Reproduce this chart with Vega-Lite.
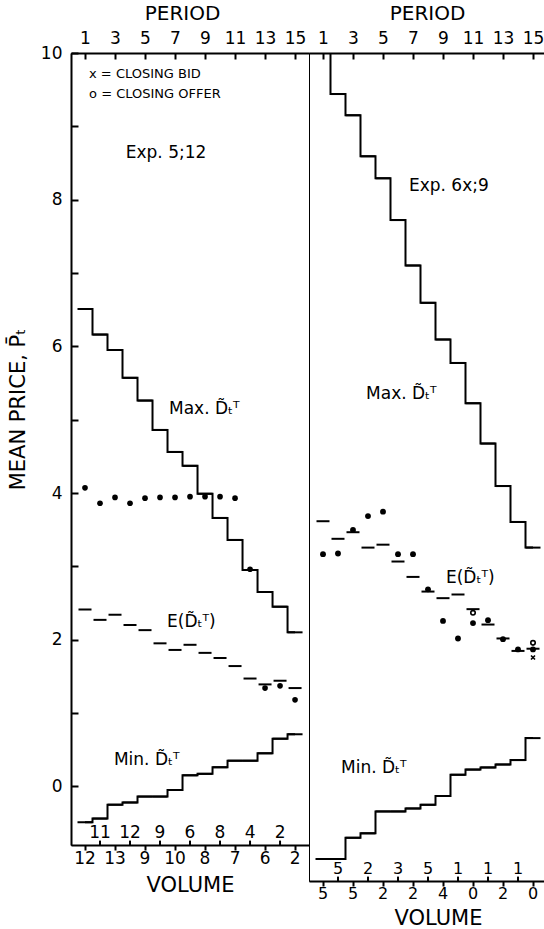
{
  "$schema": "https://vega.github.io/schema/vega-lite/v6.json",
  "padding": {"left": 6, "top": 2, "right": 0, "bottom": 0},
  "background": "white",
  "spacing": 0,
  "bounds": "flush",
  "config": {
    "view": {"stroke": "black", "strokeWidth": 1},
    "font": "DejaVu Sans",
    "axis": {"domainColor": "black", "tickColor": "black", "labelColor": "black", "titleColor": "black", "grid": false, "labelFont": "DejaVu Sans", "titleFont": "DejaVu Sans", "titleFontWeight": "normal", "labelFontSize": 17, "titleFontSize": 20, "domainWidth": 2, "tickWidth": 2},
    "text": {"font": "DejaVu Sans", "color": "black"}
  },
  "datasets": {
    "left": [
      {"period": 1, "max": 6.51, "min": -0.49, "e": 2.41, "price": 4.07, "volume": 12},
      {"period": 2, "max": 6.16, "min": -0.44, "e": 2.27, "price": 3.86, "volume": 11},
      {"period": 3, "max": 5.95, "min": -0.25, "e": 2.34, "price": 3.94, "volume": 13},
      {"period": 4, "max": 5.57, "min": -0.22, "e": 2.20, "price": 3.86, "volume": 12},
      {"period": 5, "max": 5.26, "min": -0.14, "e": 2.13, "price": 3.93, "volume": 9},
      {"period": 6, "max": 4.86, "min": -0.14, "e": 1.95, "price": 3.94, "volume": 9},
      {"period": 7, "max": 4.56, "min": -0.05, "e": 1.86, "price": 3.94, "volume": 10},
      {"period": 8, "max": 4.37, "min": 0.15, "e": 1.93, "price": 3.95, "volume": 6},
      {"period": 9, "max": 3.99, "min": 0.17, "e": 1.82, "price": 3.95, "volume": 8},
      {"period": 10, "max": 3.66, "min": 0.26, "e": 1.75, "price": 3.95, "volume": 8},
      {"period": 11, "max": 3.36, "min": 0.35, "e": 1.64, "price": 3.93, "volume": 7},
      {"period": 12, "max": 2.95, "min": 0.35, "e": 1.47, "price": 2.96, "volume": 4},
      {"period": 13, "max": 2.65, "min": 0.45, "e": 1.39, "price": 1.34, "volume": 6},
      {"period": 14, "max": 2.45, "min": 0.65, "e": 1.44, "price": 1.37, "volume": 2},
      {"period": 15, "max": 2.10, "min": 0.71, "e": 1.34, "price": 1.18, "volume": 2}
    ],
    "right": [
      {"period": 1, "max": 10.5, "min": -1.00, "e": 3.61, "price": 3.16, "volume": 5},
      {"period": 2, "max": 9.44, "min": -1.00, "e": 3.37, "price": 3.17, "volume": 5},
      {"period": 3, "max": 9.15, "min": -0.71, "e": 3.46, "price": 3.49, "volume": 5},
      {"period": 4, "max": 8.59, "min": -0.65, "e": 3.25, "price": 3.68, "volume": 2},
      {"period": 5, "max": 8.29, "min": -0.35, "e": 3.29, "price": 3.74, "volume": 2},
      {"period": 6, "max": 7.72, "min": -0.35, "e": 3.06, "price": 3.16, "volume": 3},
      {"period": 7, "max": 7.10, "min": -0.31, "e": 2.85, "price": 3.16, "volume": 2},
      {"period": 8, "max": 6.59, "min": -0.26, "e": 2.65, "price": 2.68, "volume": 5},
      {"period": 9, "max": 6.09, "min": -0.14, "e": 2.56, "price": 2.25, "volume": 4},
      {"period": 10, "max": 5.77, "min": 0.15, "e": 2.61, "price": 2.01, "volume": 1},
      {"period": 11, "max": 5.22, "min": 0.22, "e": 2.41, "price": 2.22, "volume": 0, "offer": 2.36},
      {"period": 12, "max": 4.67, "min": 0.25, "e": 2.20, "price": 2.26, "volume": 1},
      {"period": 13, "max": 4.09, "min": 0.29, "e": 2.01, "price": 2.00, "volume": 2},
      {"period": 14, "max": 3.60, "min": 0.35, "e": 1.84, "price": 1.86, "volume": 1},
      {"period": 15, "max": 3.25, "min": 0.65, "e": 1.87, "price": 1.86, "volume": 0, "offer": 1.95, "bid": 1.75}
    ]
  },
  "hconcat": [
    {
      "width": 238,
      "height": 792,
      "data": {"name": "left"},
      "resolve": {"scale": {"x": "shared", "y": "shared"}, "axis": {"x": "independent", "y": "independent"}},
      "layer": [
        {
          "mark": {"type": "line", "interpolate": "step", "color": "black", "strokeWidth": 2, "clip": true},
          "encoding": {
            "x": {"field": "period", "type": "quantitative", "scale": {"domain": [0.067, 15.93], "nice": false, "zero": false},
              "axis": {"orient": "top", "values": [1, 3, 5, 7, 9, 11, 13, 15], "format": "d", "tickSize": -6, "labelPadding": 12, "labelFlush": false, "labelOverlap": false, "title": "PERIOD", "titlePadding": 6, "titleX": 111}},
            "y": {"field": "max", "type": "quantitative", "scale": {"domain": [-0.8, 10], "nice": false, "zero": false},
              "axis": {"orient": "left", "values": [0, 1, 2, 3, 4, 5, 6, 7, 8, 9, 10], "labelExpr": "datum.value % 2 == 0 ? datum.label : ''", "tickSize": -7, "labelPadding": 16, "labelFlush": false, "labelOverlap": false, "title": "MEAN PRICE, P̄ₜ", "titlePadding": 12, "titleFontSize": 21, "titleY": 356}}
          }
        },
        {
          "mark": {"type": "tick", "orient": "horizontal", "size": 15, "thickness": 2, "color": "black", "opacity": 1, "clip": true},
          "encoding": {
            "x": {"field": "period", "type": "quantitative", "scale": {"domain": [0.067, 15.93], "nice": false, "zero": false}, "axis": null},
            "y": {"field": "max", "type": "quantitative", "scale": {"domain": [-0.8, 10], "nice": false, "zero": false}, "axis": null}}
        },
        {
          "mark": {"type": "line", "interpolate": "step", "color": "black", "strokeWidth": 2, "clip": true},
          "encoding": {
            "x": {"field": "period", "type": "quantitative", "scale": {"domain": [0.067, 15.93], "nice": false, "zero": false}, "axis": null},
            "y": {"field": "min", "type": "quantitative", "scale": {"domain": [-0.8, 10], "nice": false, "zero": false}, "axis": null}}
        },
        {
          "mark": {"type": "tick", "orient": "horizontal", "size": 15, "thickness": 2, "color": "black", "opacity": 1, "clip": true},
          "encoding": {
            "x": {"field": "period", "type": "quantitative", "scale": {"domain": [0.067, 15.93], "nice": false, "zero": false}, "axis": null},
            "y": {"field": "min", "type": "quantitative", "scale": {"domain": [-0.8, 10], "nice": false, "zero": false}, "axis": null}}
        },
        {
          "mark": {"type": "tick", "orient": "horizontal", "size": 13, "thickness": 2, "color": "black", "opacity": 1},
          "encoding": {
            "x": {"field": "period", "type": "quantitative", "scale": {"domain": [0.067, 15.93], "nice": false, "zero": false}, "axis": null},
            "y": {"field": "e", "type": "quantitative", "scale": {"domain": [-0.8, 10], "nice": false, "zero": false}, "axis": null}}
        },
        {
          "mark": {"type": "point", "filled": true, "shape": "circle", "size": 32, "color": "black", "opacity": 1},
          "encoding": {
            "x": {"field": "period", "type": "quantitative", "scale": {"domain": [0.067, 15.93], "nice": false, "zero": false}, "axis": null},
            "y": {"field": "price", "type": "quantitative", "scale": {"domain": [-0.8, 10], "nice": false, "zero": false}, "axis": null}}
        },
        {
          "transform": [{"filter": "datum.period % 2 == 1"}],
          "mark": {"type": "text", "fontSize": 17, "baseline": "middle", "align": "center", "dy": 14},
          "encoding": {
            "x": {"field": "period", "type": "quantitative", "scale": {"domain": [0.067, 15.93], "nice": false, "zero": false},
              "axis": {"orient": "bottom", "values": [1, 3, 5, 7, 9, 11, 13, 15], "labels": false, "tickSize": 5, "title": "VOLUME", "titleFontSize": 21, "titlePadding": 23}},
            "y": {"datum": -0.8, "type": "quantitative", "scale": {"domain": [-0.8, 10], "nice": false, "zero": false}, "axis": null},
            "text": {"field": "volume", "type": "quantitative"}
          }
        },
        {
          "transform": [{"filter": "datum.period % 2 == 0"}],
          "mark": {"type": "text", "fontSize": 17, "baseline": "middle", "align": "center", "dy": -12},
          "encoding": {
            "x": {"field": "period", "type": "quantitative", "scale": {"domain": [0.067, 15.93], "nice": false, "zero": false}, "axis": null},
            "y": {"datum": -0.8, "type": "quantitative", "scale": {"domain": [-0.8, 10], "nice": false, "zero": false}, "axis": null},
            "text": {"field": "volume", "type": "quantitative"}
          }
        },
        {
          "transform": [{"filter": "datum.period % 2 == 0"}],
          "mark": {"type": "rule", "color": "black", "strokeWidth": 2},
          "encoding": {
            "x": {"field": "period", "type": "quantitative", "scale": {"domain": [0.067, 15.93], "nice": false, "zero": false}, "axis": null},
            "y": {"datum": -0.8, "type": "quantitative", "scale": {"domain": [-0.8, 10], "nice": false, "zero": false}, "axis": null},
            "y2": {"datum": -0.74}
          }
        },
        {
          "transform": [{"filter": "datum.period == 1"}],
          "mark": {"type": "text", "text": "x = CLOSING BID", "fontSize": 13, "align": "left", "baseline": "middle"},
          "encoding": {
            "x": {"datum": 1.27, "type": "quantitative", "scale": {"domain": [0.067, 15.93], "nice": false, "zero": false}, "axis": null},
            "y": {"datum": 9.72, "type": "quantitative", "scale": {"domain": [-0.8, 10], "nice": false, "zero": false}, "axis": null}}
        },
        {
          "transform": [{"filter": "datum.period == 1"}],
          "mark": {"type": "text", "text": "o = CLOSING OFFER", "fontSize": 13, "align": "left", "baseline": "middle"},
          "encoding": {
            "x": {"datum": 1.27, "type": "quantitative", "scale": {"domain": [0.067, 15.93], "nice": false, "zero": false}, "axis": null},
            "y": {"datum": 9.44, "type": "quantitative", "scale": {"domain": [-0.8, 10], "nice": false, "zero": false}, "axis": null}}
        },
        {
          "transform": [{"filter": "datum.period == 1"}],
          "mark": {"type": "text", "text": "Exp. 5;12", "fontSize": 17, "align": "center", "baseline": "middle"},
          "encoding": {
            "x": {"datum": 6.4, "type": "quantitative", "scale": {"domain": [0.067, 15.93], "nice": false, "zero": false}, "axis": null},
            "y": {"datum": 8.63, "type": "quantitative", "scale": {"domain": [-0.8, 10], "nice": false, "zero": false}, "axis": null}}
        },
        {
          "transform": [{"filter": "datum.period == 1"}],
          "mark": {"type": "text", "text": "Max. D̃ₜᵀ", "fontSize": 17, "align": "left", "baseline": "middle"},
          "encoding": {
            "x": {"datum": 6.6, "type": "quantitative", "scale": {"domain": [0.067, 15.93], "nice": false, "zero": false}, "axis": null},
            "y": {"datum": 5.15, "type": "quantitative", "scale": {"domain": [-0.8, 10], "nice": false, "zero": false}, "axis": null}}
        },
        {
          "transform": [{"filter": "datum.period == 1"}],
          "mark": {"type": "text", "text": "E(D̃ₜᵀ)", "fontSize": 17, "align": "left", "baseline": "middle"},
          "encoding": {
            "x": {"datum": 6.47, "type": "quantitative", "scale": {"domain": [0.067, 15.93], "nice": false, "zero": false}, "axis": null},
            "y": {"datum": 2.24, "type": "quantitative", "scale": {"domain": [-0.8, 10], "nice": false, "zero": false}, "axis": null}}
        },
        {
          "transform": [{"filter": "datum.period == 1"}],
          "mark": {"type": "text", "text": "Min. D̃ₜᵀ", "fontSize": 17, "align": "left", "baseline": "middle"},
          "encoding": {
            "x": {"datum": 2.93, "type": "quantitative", "scale": {"domain": [0.067, 15.93], "nice": false, "zero": false}, "axis": null},
            "y": {"datum": 0.36, "type": "quantitative", "scale": {"domain": [-0.8, 10], "nice": false, "zero": false}, "axis": null}}
        }
      ]
    },
    {
      "width": 236,
      "height": 828,
      "data": {"name": "right"},
      "resolve": {"scale": {"x": "shared", "y": "shared"}, "axis": {"x": "independent"}},
      "layer": [
        {
          "mark": {"type": "line", "interpolate": "step", "color": "black", "strokeWidth": 2, "clip": true},
          "encoding": {
            "x": {"field": "period", "type": "quantitative", "scale": {"domain": [0.067, 15.8], "nice": false, "zero": false},
              "axis": {"orient": "top", "values": [1, 3, 5, 7, 9, 11, 13, 15], "format": "d", "tickSize": -6, "labelPadding": 12, "labelFlush": false, "labelOverlap": false, "title": "PERIOD", "titlePadding": 6}},
            "y": {"field": "max", "type": "quantitative", "scale": {"domain": [-1.3, 10], "nice": false, "zero": false}, "axis": null}
          }
        },
        {
          "mark": {"type": "tick", "orient": "horizontal", "size": 15, "thickness": 2, "color": "black", "opacity": 1, "clip": true},
          "encoding": {
            "x": {"field": "period", "type": "quantitative", "scale": {"domain": [0.067, 15.8], "nice": false, "zero": false}, "axis": null},
            "y": {"field": "max", "type": "quantitative", "scale": {"domain": [-1.3, 10], "nice": false, "zero": false}, "axis": null}}
        },
        {
          "mark": {"type": "line", "interpolate": "step", "color": "black", "strokeWidth": 2, "clip": true},
          "encoding": {
            "x": {"field": "period", "type": "quantitative", "scale": {"domain": [0.067, 15.8], "nice": false, "zero": false}, "axis": null},
            "y": {"field": "min", "type": "quantitative", "scale": {"domain": [-1.3, 10], "nice": false, "zero": false}, "axis": null}}
        },
        {
          "mark": {"type": "tick", "orient": "horizontal", "size": 15, "thickness": 2, "color": "black", "opacity": 1, "clip": true},
          "encoding": {
            "x": {"field": "period", "type": "quantitative", "scale": {"domain": [0.067, 15.8], "nice": false, "zero": false}, "axis": null},
            "y": {"field": "min", "type": "quantitative", "scale": {"domain": [-1.3, 10], "nice": false, "zero": false}, "axis": null}}
        },
        {
          "mark": {"type": "tick", "orient": "horizontal", "size": 13, "thickness": 2, "color": "black", "opacity": 1},
          "encoding": {
            "x": {"field": "period", "type": "quantitative", "scale": {"domain": [0.067, 15.8], "nice": false, "zero": false}, "axis": null},
            "y": {"field": "e", "type": "quantitative", "scale": {"domain": [-1.3, 10], "nice": false, "zero": false}, "axis": null}}
        },
        {
          "mark": {"type": "point", "filled": true, "shape": "circle", "size": 34, "color": "black", "opacity": 1},
          "encoding": {
            "x": {"field": "period", "type": "quantitative", "scale": {"domain": [0.067, 15.8], "nice": false, "zero": false}, "axis": null},
            "y": {"field": "price", "type": "quantitative", "scale": {"domain": [-1.3, 10], "nice": false, "zero": false}, "axis": null}}
        },
        {
          "mark": {"type": "point", "filled": false, "shape": "circle", "size": 20, "color": "black", "strokeWidth": 1.6, "opacity": 1},
          "encoding": {
            "x": {"field": "period", "type": "quantitative", "scale": {"domain": [0.067, 15.8], "nice": false, "zero": false}, "axis": null},
            "y": {"field": "offer", "type": "quantitative", "scale": {"domain": [-1.3, 10], "nice": false, "zero": false}, "axis": null}}
        },
        {
          "mark": {"type": "point", "filled": false, "shape": "M-1,-1L1,1M-1,1L1,-1", "size": 16, "color": "black", "strokeWidth": 1.6, "opacity": 1},
          "encoding": {
            "x": {"field": "period", "type": "quantitative", "scale": {"domain": [0.067, 15.8], "nice": false, "zero": false}, "axis": null},
            "y": {"field": "bid", "type": "quantitative", "scale": {"domain": [-1.3, 10], "nice": false, "zero": false}, "axis": null}}
        },
        {
          "transform": [{"filter": "datum.period % 2 == 1"}],
          "mark": {"type": "text", "fontSize": 16, "baseline": "middle", "align": "center", "dy": 13},
          "encoding": {
            "x": {"field": "period", "type": "quantitative", "scale": {"domain": [0.067, 15.8], "nice": false, "zero": false},
              "axis": {"orient": "bottom", "values": [1, 3, 5, 7, 9, 11, 13, 15], "labels": false, "tickSize": 5, "title": "VOLUME", "titleFontSize": 21, "titlePadding": 20, "titleX": 129}},
            "y": {"datum": -1.3, "type": "quantitative", "scale": {"domain": [-1.3, 10], "nice": false, "zero": false}, "axis": null},
            "text": {"field": "volume", "type": "quantitative"}
          }
        },
        {
          "transform": [{"filter": "datum.period % 2 == 0"}],
          "mark": {"type": "text", "fontSize": 16, "baseline": "middle", "align": "center", "dy": -12},
          "encoding": {
            "x": {"field": "period", "type": "quantitative", "scale": {"domain": [0.067, 15.8], "nice": false, "zero": false}, "axis": null},
            "y": {"datum": -1.3, "type": "quantitative", "scale": {"domain": [-1.3, 10], "nice": false, "zero": false}, "axis": null},
            "text": {"field": "volume", "type": "quantitative"}
          }
        },
        {
          "transform": [{"filter": "datum.period % 2 == 0"}],
          "mark": {"type": "rule", "color": "black", "strokeWidth": 2},
          "encoding": {
            "x": {"field": "period", "type": "quantitative", "scale": {"domain": [0.067, 15.8], "nice": false, "zero": false}, "axis": null},
            "y": {"datum": -1.3, "type": "quantitative", "scale": {"domain": [-1.3, 10], "nice": false, "zero": false}, "axis": null},
            "y2": {"datum": -1.24}
          }
        },
        {
          "transform": [{"filter": "datum.period == 1"}],
          "mark": {"type": "text", "text": "Exp. 6x;9", "fontSize": 17, "align": "left", "baseline": "middle"},
          "encoding": {
            "x": {"datum": 6.73, "type": "quantitative", "scale": {"domain": [0.067, 15.8], "nice": false, "zero": false}, "axis": null},
            "y": {"datum": 8.18, "type": "quantitative", "scale": {"domain": [-1.3, 10], "nice": false, "zero": false}, "axis": null}}
        },
        {
          "transform": [{"filter": "datum.period == 1"}],
          "mark": {"type": "text", "text": "Max. D̃ₜᵀ", "fontSize": 17, "align": "left", "baseline": "middle"},
          "encoding": {
            "x": {"datum": 3.87, "type": "quantitative", "scale": {"domain": [0.067, 15.8], "nice": false, "zero": false}, "axis": null},
            "y": {"datum": 5.35, "type": "quantitative", "scale": {"domain": [-1.3, 10], "nice": false, "zero": false}, "axis": null}}
        },
        {
          "transform": [{"filter": "datum.period == 1"}],
          "mark": {"type": "text", "text": "E(D̃ₜᵀ)", "fontSize": 17, "align": "left", "baseline": "middle"},
          "encoding": {
            "x": {"datum": 9.2, "type": "quantitative", "scale": {"domain": [0.067, 15.8], "nice": false, "zero": false}, "axis": null},
            "y": {"datum": 2.83, "type": "quantitative", "scale": {"domain": [-1.3, 10], "nice": false, "zero": false}, "axis": null}}
        },
        {
          "transform": [{"filter": "datum.period == 1"}],
          "mark": {"type": "text", "text": "Min. D̃ₜᵀ", "fontSize": 17, "align": "left", "baseline": "middle"},
          "encoding": {
            "x": {"datum": 2.2, "type": "quantitative", "scale": {"domain": [0.067, 15.8], "nice": false, "zero": false}, "axis": null},
            "y": {"datum": 0.24, "type": "quantitative", "scale": {"domain": [-1.3, 10], "nice": false, "zero": false}, "axis": null}}
        }
      ]
    }
  ]
}
